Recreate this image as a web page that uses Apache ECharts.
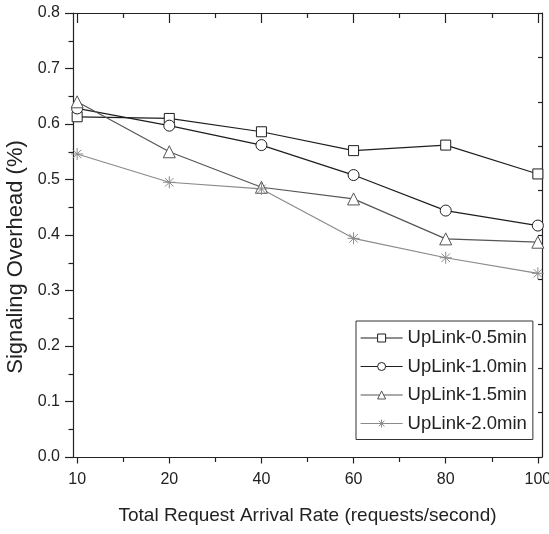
<!DOCTYPE html>
<html lang="en">
<head>
	<meta charset="UTF-8">
	<title>Signaling Overhead</title>
	<script src="https://cdn.jsdelivr.net/npm/echarts@6/dist/echarts.min.js"></script>
	<style>
		html, body { margin: 0; padding: 0; background: #fff; }
	</style>
</head>
<body>
	<div id="chart" style="width: 549px; height: 534px;"></div>

	<script>
		// x categories (equally spaced on the axis)
		var categories = ['10', '20', '40', '60', '80', '100'];
		var seriesNames = ['UpLink-0.5min', 'UpLink-1.0min', 'UpLink-1.5min', 'UpLink-2.0min'];
		var uplink05 = [0.613, 0.610, 0.586, 0.552, 0.562, 0.510];
		var uplink10 = [0.628, 0.597, 0.562, 0.508, 0.444, 0.417];
		var uplink15 = [0.640, 0.550, 0.486, 0.465, 0.393, 0.387];
		var uplink20 = [0.546, 0.495, 0.483, 0.394, 0.359, 0.331];
		var majorTicks = [0, 1, 2, 3, 4, 5];
		var minorTicks = [0.5, 1.5, 2.5, 3.5, 4.5];

		var font = 'Liberation Sans, Arial, sans-serif';
		var starPath = 'path://M6,0L6,12M0,6L12,6M1.76,1.76L10.24,10.24M1.76,10.24L10.24,1.76';

		function pairs(arr) {
			return arr.map(function (v, i) { return [i, v]; });
		}

		function makeSeries(name, data, symbol, size, color) {
			return {
				name: name,
				type: 'line',
				data: pairs(data),
				symbol: symbol,
				symbolSize: size,
				showAllSymbol: true,
				lineStyle: { color: color, width: 1.2 },
				itemStyle: { color: '#fff', borderColor: color, borderWidth: 1 },
				emphasis: { disabled: true },
				animation: false
			};
		}

		var chart = echarts.init(document.getElementById('chart'));

		var xRange = { min: -0.045, max: 5.045 };

		var option = {
			backgroundColor: '#fff',
			animation: false,
			grid: { left: 73, right: 7, top: 13, bottom: 77, outerBoundsMode: 'none', containLabel: false },
			legend: {
				orient: 'vertical',
				left: 356,
				top: 321,
				padding: [7, 6, 6, 4],
				itemGap: 8.5,
				itemWidth: 42,
				itemHeight: 10,
				backgroundColor: '#fff',
				borderColor: '#333',
				borderWidth: 1,
				borderRadius: 0,
				itemStyle: { borderWidth: 1 },
				lineStyle: { width: 1.2 },
				textStyle: { fontFamily: font, fontSize: 18.5, color: '#222', lineHeight: 20 },
				data: seriesNames
			},
			xAxis: [
				{
					type: 'value', position: 'bottom', min: xRange.min, max: xRange.max,
					name: 'Total Request Arrival Rate (requests/second)',
					nameLocation: 'middle', nameGap: 49,
					nameTextStyle: { fontFamily: font, fontSize: 19, color: '#222' },
					axisLine: { show: true, onZero: false, lineStyle: { color: '#222', width: 1.2 } },
					axisTick: { show: true, inside: false, length: 6.5, customValues: majorTicks, lineStyle: { color: '#222', width: 1.2 } },
					axisLabel: {
						customValues: majorTicks, margin: 15,
						fontFamily: font, fontSize: 16, color: '#222',
						formatter: function (v) { return categories[Math.round(v)]; }
					},
					splitLine: { show: false }
				},
				{
					type: 'value', position: 'bottom', min: xRange.min, max: xRange.max,
					axisLine: { show: false, onZero: false },
					axisTick: { show: true, inside: false, length: 5, customValues: minorTicks, lineStyle: { color: '#222', width: 1.2 } },
					axisLabel: { show: false },
					splitLine: { show: false }
				},
				{
					type: 'value', position: 'top', min: xRange.min, max: xRange.max,
					axisLine: { show: true, onZero: false, lineStyle: { color: '#222', width: 1.2 } },
					axisTick: { show: true, inside: true, length: 10, customValues: majorTicks, lineStyle: { color: '#222', width: 1.2 } },
					axisLabel: { show: false },
					splitLine: { show: false }
				},
				{
					type: 'value', position: 'top', min: xRange.min, max: xRange.max,
					axisLine: { show: false, onZero: false },
					axisTick: { show: true, inside: true, length: 5, customValues: minorTicks, lineStyle: { color: '#222', width: 1.2 } },
					axisLabel: { show: false },
					splitLine: { show: false }
				}
			],
			yAxis: [
				{
					type: 'value', position: 'left', min: 0, max: 0.8, interval: 0.1,
					name: 'Signaling Overhead (%)',
					nameLocation: 'middle', nameGap: 40, nameRotate: 90,
					nameTextStyle: { fontFamily: font, fontSize: 22, color: '#222', padding: [0, 44, 0, 0] },
					axisLine: { show: true, onZero: false, lineStyle: { color: '#222', width: 1.2 } },
					axisTick: { show: true, inside: false, length: 8, lineStyle: { color: '#222', width: 1.2 } },
					minorTick: { show: true, splitNumber: 2, length: 4.5, lineStyle: { color: '#222', width: 1.2 } },
					axisLabel: {
						margin: 13, fontFamily: font, fontSize: 16, color: '#222',
						formatter: function (v) { return v.toFixed(1); }
					},
					splitLine: { show: false }
				},
				{
					type: 'value', position: 'right', min: 0, max: 1, interval: 0.1,
					axisLine: { show: true, onZero: false, lineStyle: { color: '#222', width: 1.2 } },
					axisTick: { show: true, inside: true, length: 4, lineStyle: { color: '#222', width: 1.2 } },
					axisLabel: { show: false },
					splitLine: { show: false }
				}
			],
			series: [
				makeSeries(seriesNames[0], uplink05, 'rect', 10, '#1e1e1e'),
				makeSeries(seriesNames[1], uplink10, 'circle', 11, '#1e1e1e'),
				makeSeries(seriesNames[2], uplink15, 'triangle', 12, '#555'),
				makeSeries(seriesNames[3], uplink20, starPath, 12, '#8a8a8a')
			]
		};

		chart.setOption(option);
	</script>
</body>
</html>
